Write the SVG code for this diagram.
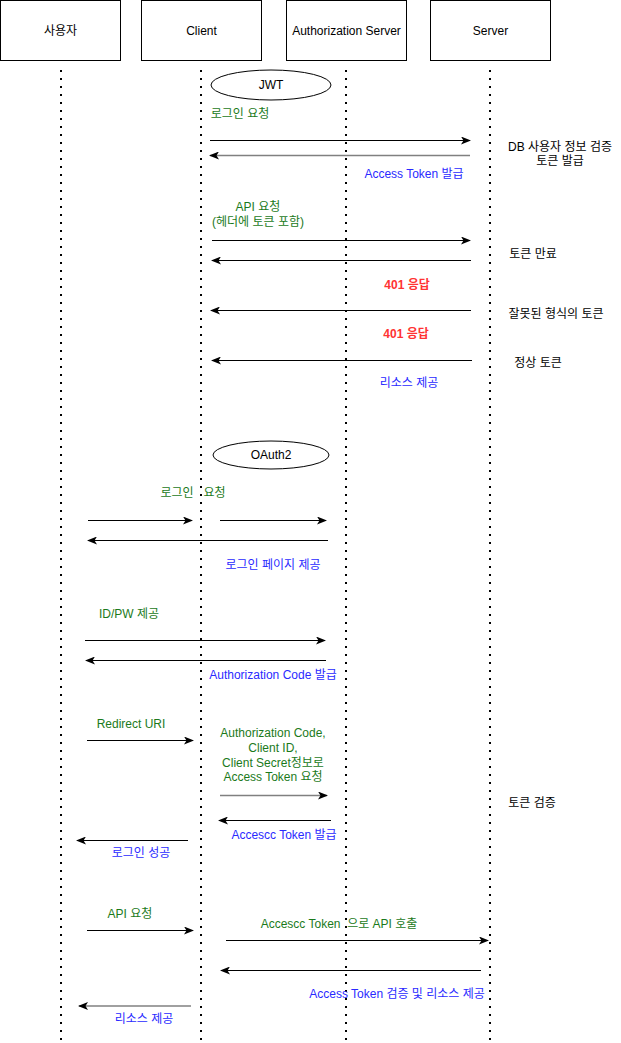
<svg xmlns="http://www.w3.org/2000/svg" width="621" height="1043" viewBox="0 0 621 1043">
<style>
text{font-family:"Liberation Sans","Noto Sans CJK KR",sans-serif;font-size:12px;text-anchor:middle}
.g{fill:#1b7a1b}.b{fill:#2a2aff}.r{fill:#ff3333;font-weight:bold}.k{fill:#000}
.box{fill:#fff;stroke:#000;stroke-width:1}
.life{stroke:#000;stroke-width:2;stroke-dasharray:2 6}
.a{stroke:#000;stroke-width:1;fill:none;marker-end:url(#ah)}
.ag{stroke:#808080;stroke-width:1.5;fill:none;marker-end:url(#ahg)}
</style>
<defs>
<marker id="ah" viewBox="0 0 10 8" refX="9" refY="4" markerWidth="10" markerHeight="8" markerUnits="userSpaceOnUse" orient="auto">
<path d="M0,0 L10,4 L0,8 L2.5,4 Z" fill="#000"/>
</marker>
<marker id="ahg" viewBox="0 0 10 8" refX="9" refY="4" markerWidth="10" markerHeight="8" markerUnits="userSpaceOnUse" orient="auto">
<path d="M0,0 L10,4 L0,8 L2.5,4 Z" fill="#000"/>
</marker>
</defs>
<rect width="621" height="1043" fill="#fff"/>
<g id="lifelines">
<line class="life" x1="61" y1="70" x2="61" y2="1043"/>
<line class="life" x1="201" y1="70" x2="201" y2="1043"/>
<line class="life" x1="346" y1="70" x2="346" y2="1043"/>
<line class="life" x1="490" y1="70" x2="490" y2="1043"/>
</g>
<g id="user"><rect class="box" x="0.5" y="0.5" width="120" height="60"/><text class="k" x="60.5" y="34.5">사용자</text></g>
<g id="client"><rect class="box" x="141.5" y="0.5" width="120" height="60"/><text class="k" x="201.5" y="34.5">Client</text></g>
<g id="authserver"><rect class="box" x="286.5" y="0.5" width="120" height="60"/><text class="k" x="346.5" y="34.5">Authorization Server</text></g>
<g id="server"><rect class="box" x="430.5" y="0.5" width="120" height="60"/><text class="k" x="490.5" y="34.5">Server</text></g>
<g id="jwt"><ellipse cx="271" cy="85" rx="60" ry="15" fill="#fff" stroke="#000"/><text class="k" x="271" y="89">JWT</text></g>
<g id="oauth2"><ellipse cx="271" cy="455" rx="58" ry="14" fill="#fff" stroke="#000"/><text class="k" x="271" y="459">OAuth2</text></g>
<g id="connectors">
<line class="a" x1="210" y1="140.5" x2="470" y2="140.5"/>
<line class="ag" x1="470" y1="155.5" x2="210" y2="155.5"/>
<line class="a" x1="212" y1="240.5" x2="470" y2="240.5"/>
<line class="a" x1="471" y1="260.5" x2="212" y2="260.5"/>
<line class="a" x1="471" y1="310.5" x2="211" y2="310.5"/>
<line class="a" x1="472" y1="360.5" x2="212" y2="360.5"/>
<line class="a" x1="88" y1="520.5" x2="192" y2="520.5"/>
<line class="a" x1="220" y1="520.5" x2="326" y2="520.5"/>
<line class="a" x1="328" y1="540.5" x2="88" y2="540.5"/>
<line class="a" x1="85" y1="640.5" x2="325" y2="640.5"/>
<line class="a" x1="326" y1="660.5" x2="86" y2="660.5"/>
<line class="a" x1="87" y1="740.5" x2="193" y2="740.5"/>
<line class="ag" x1="220" y1="795.5" x2="327" y2="795.5"/>
<line class="a" x1="331" y1="820.5" x2="219" y2="820.5"/>
<line class="a" x1="188" y1="840.5" x2="77" y2="840.5"/>
<line class="a" x1="87" y1="930.5" x2="193" y2="930.5"/>
<line class="a" x1="226" y1="940.5" x2="488" y2="940.5"/>
<line class="a" x1="481" y1="970.5" x2="221" y2="970.5"/>
<line class="ag" x1="191" y1="1006" x2="79" y2="1006"/>
</g>
<g id="labels">
<text class="g" x="240" y="118">로그인 요청</text>
<text class="k" x="560" y="151">DB 사용자 정보 검증</text>
<text class="k" x="560" y="165">토큰 발급</text>
<text class="b" x="414" y="178">Access Token 발급</text>
<text class="g" x="258" y="211">API 요청</text>
<text class="g" x="258" y="226">(헤더에 토큰 포함)</text>
<text class="k" x="533" y="258">토큰 만료</text>
<text class="r" x="407" y="289">401 응답</text>
<text class="k" x="556" y="318">잘못된 형식의 토큰</text>
<text class="r" x="406" y="338">401 응답</text>
<text class="k" x="538" y="367">정상 토큰</text>
<text class="b" x="409" y="387">리소스 제공</text>
<text class="g" x="193" y="497" style="white-space:pre" xml:space="preserve">로그인   요청</text>
<text class="b" x="273" y="569">로그인 페이지 제공</text>
<text class="g" x="129" y="618">ID/PW 제공</text>
<text class="b" x="273" y="679">Authorization Code 발급</text>
<text class="g" x="131" y="728">Redirect URI</text>
<text class="g" x="273" y="737">Authorization Code,</text>
<text class="g" x="273" y="752">Client ID,</text>
<text class="g" x="273" y="767">Client Secret정보로</text>
<text class="g" x="273" y="781">Access Token 요청</text>
<text class="k" x="532" y="807">토큰 검증</text>
<text class="b" x="284" y="839">Accescc Token 발급</text>
<text class="b" x="141" y="857">로그인 성공</text>
<text class="g" x="130" y="918">API 요청</text>
<text class="g" x="339" y="928" style="white-space:pre" xml:space="preserve">Accescc Token  으로 API 호출</text>
<text class="b" x="397" y="998">Access Token 검증 및 리소스 제공</text>
<text class="b" x="144" y="1023">리소스 제공</text>
</g>
</svg>
